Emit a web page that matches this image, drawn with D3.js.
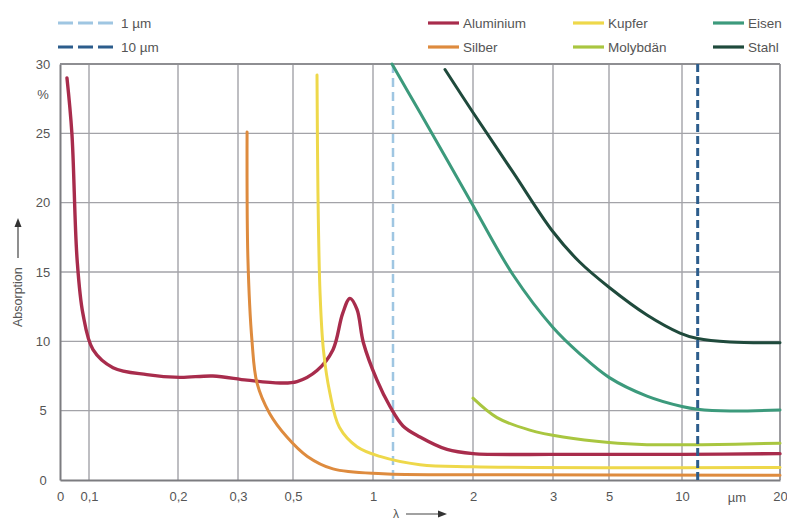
<!DOCTYPE html>
<html><head><meta charset="utf-8">
<script src="https://cdn.jsdelivr.net/npm/d3@7"></script>
<style>
html,body{margin:0;padding:0;background:#fff;}
svg{display:block;font-family:"Liberation Sans",Arial,sans-serif;}
</style></head><body>
<svg id="chart" width="787" height="523"></svg>
<script>
// Wavelength axis (µm) and absorption axis (%)
const xTickValues = [0, 0.1, 0.2, 0.3, 0.5, 1, 2, 3, 5, 10, 20];
const xTickLabels = ["0", "0,1", "0,2", "0,3", "0,5", "1", "2", "3", "5", "10", "20"];
const yTickValues = [0, 5, 10, 15, 20, 25, 30];

// Absorption curves: [wavelength µm, absorption %]
const aluminium = [[0.024,29],[0.041,25],[0.059,15.9],[0.079,12],[0.1045,9.4],[0.127,8.1],[0.165,7.6],[0.203,7.4],[0.258,7.5],[0.333,7.2],[0.453,7.0],[0.525,7.1],[0.65,7.9],[0.75,9.4],[0.81,12],[0.856,13.1],[0.9,12.3],[0.94,9.9],[1.04,7.2],[1.17,5.3],[1.3,3.9],[1.47,3.1],[1.74,2.2],[2,1.9],[3,1.85],[5,1.85],[10,1.85],[20,1.9]];
const silber = [[0.333,25.1],[0.336,16],[0.351,10],[0.369,7],[0.415,4.8],[0.478,3.1],[0.59,1.7],[0.75,0.8],[1.1,0.45],[2,0.38],[20,0.35]];
const kupfer = [[0.65,29.2],[0.656,20.7],[0.669,13.5],[0.69,9.4],[0.73,6.3],[0.79,3.8],[0.9,2.4],[1.07,1.7],[1.47,1.1],[2,0.95],[20,0.9]];
const molybdaen = [[2,5.9],[2.3,4.5],[2.71,3.6],[3.36,3.1],[5,2.7],[7.6,2.55],[12,2.55],[20,2.65]];
const eisen = [[1.19,30],[1.47,26.5],[1.74,23.1],[2,19.8],[2.5,14.8],[3,11.0],[3.96,9.1],[5,7.4],[7.6,6.05],[10,5.3],[11.6,5.1],[14.9,4.97],[20,5.05]];
const stahl = [[1.72,29.6],[2,26.5],[2.5,22.2],[3,17.9],[3.96,15.7],[5,13.9],[7.6,11.9],[9.86,10.6],[11.6,10.2],[14.9,9.95],[20,9.9]];

const seriesNames = ["Aluminium", "Silber", "Kupfer", "Molybdän", "Eisen", "Stahl"];
const seriesValues = [aluminium, silber, kupfer, molybdaen, eisen, stahl];
const seriesColors = ["#a82c4c", "#de8b3e", "#eed84a", "#a9c640", "#3c9a7c", "#1f4a3c"];

// Laser wavelength markers
const laserNames = ["1 µm", "10 µm"];
const laserWavelengths = [1.2, 11.6];
const laserColors = ["#9fc6e2", "#2c5d8c"];

const svg = d3.select("#chart");
const plotLeft = 60, plotRight = 780, plotTop = 64, plotBottom = 480;

// Non-uniform wavelength axis: each tick sits at its own position
const xStops = [60, 89, 178, 238, 293, 373, 473, 553, 609, 682, 780];
const x = d3.scaleLinear().domain(xTickValues).range(xStops);
const y = d3.scaleLinear().domain([0, 30]).range([plotBottom, plotTop]);

const gridColor = "#a3a3a8";
const textColor = "#555";

// Grid
const grid = svg.append("g");
grid.selectAll(".vg").data(xTickValues.slice(1)).join("line")
  .attr("x1", d => x(d)).attr("x2", d => x(d))
  .attr("y1", plotTop).attr("y2", plotBottom)
  .attr("stroke", gridColor).attr("stroke-width", 1.4);
grid.selectAll(".hg").data(yTickValues.slice(1)).join("line")
  .attr("x1", plotLeft).attr("x2", plotRight)
  .attr("y1", d => y(d)).attr("y2", d => y(d))
  .attr("stroke", gridColor).attr("stroke-width", 1.4);

// Axes
const xAxis = svg.append("g").attr("transform", `translate(0,${plotBottom})`)
  .call(d3.axisBottom(x).tickValues(xTickValues).tickFormat((d, i) => xTickLabels[i]).tickSize(0).tickPadding(12));
xAxis.select(".domain").attr("stroke", "#7c7c80").attr("stroke-width", 2);
xAxis.selectAll("text").attr("fill", textColor).attr("font-size", 13);

const yAxis = svg.append("g").attr("transform", `translate(${plotLeft},0)`)
  .call(d3.axisLeft(y).tickValues(yTickValues).tickSize(0).tickPadding(17));
yAxis.select(".domain").attr("stroke", "#7c7c80").attr("stroke-width", 2);
yAxis.selectAll("text").attr("fill", textColor).attr("font-size", 13).attr("text-anchor", "middle");

// Unit labels
svg.append("text").attr("x", 43).attr("y", y(27.5)).attr("text-anchor", "middle")
  .attr("fill", textColor).attr("font-size", 13).text("%");
svg.append("text").attr("x", x(15.6)).attr("y", plotBottom + 22).attr("text-anchor", "middle")
  .attr("fill", textColor).attr("font-size", 13).text("µm");

// Axis titles with arrows
svg.append("text").attr("transform", "translate(22,327) rotate(-90)")
  .attr("fill", textColor).attr("font-size", 12.5).text("Absorption");
svg.append("line").attr("x1", 18).attr("x2", 18).attr("y1", 258).attr("y2", 225)
  .attr("stroke", "#444").attr("stroke-width", 1.2);
svg.append("path").attr("d", "M18,218 L14.5,227 L21.5,227 Z").attr("fill", "#333");

svg.append("text").attr("x", 393).attr("y", 518)
  .attr("fill", textColor).attr("font-size", 12).text("λ");
svg.append("line").attr("x1", 406).attr("x2", 439).attr("y1", 514).attr("y2", 514)
  .attr("stroke", "#444").attr("stroke-width", 1.2);
svg.append("path").attr("d", "M447,514 L438,510.5 L438,517.5 Z").attr("fill", "#333");

// Top and right border
svg.append("line").attr("x1", plotLeft).attr("x2", plotRight).attr("y1", plotTop).attr("y2", plotTop)
  .attr("stroke", "#8e8e92").attr("stroke-width", 1.8);
svg.append("line").attr("x1", plotRight).attr("x2", plotRight).attr("y1", plotTop).attr("y2", plotBottom)
  .attr("stroke", "#8e8e92").attr("stroke-width", 1.4);

// Laser wavelength marker lines
const laserWidths = [2.5, 3];
const laserDash = ["9,5", "8,4"];
function drawLaser(i) {
  svg.append("line")
    .attr("x1", x(laserWavelengths[i])).attr("x2", x(laserWavelengths[i]))
    .attr("y1", plotTop).attr("y2", plotBottom)
    .attr("stroke", laserColors[i]).attr("stroke-width", laserWidths[i])
    .attr("stroke-dasharray", laserDash[i]);
}
drawLaser(0);

// Absorption curves
const line = d3.line().x(d => x(d[0])).y(d => y(d[1])).curve(d3.curveCatmullRom.alpha(0.5));
svg.append("g").selectAll("path").data(seriesValues).join("path")
  .attr("d", d => line(d))
  .attr("fill", "none")
  .attr("stroke", (d, i) => seriesColors[i])
  .attr("stroke-width", (d, i) => i === 0 ? 3.4 : 3)
  .attr("stroke-linecap", "round")
  .attr("stroke-linejoin", "round");

drawLaser(1);

// Legend: laser markers
const lg = svg.append("g");
laserNames.forEach((name, i) => {
  const ly = 23 + i * 24;
  lg.append("line").attr("x1", 58).attr("x2", 113).attr("y1", ly).attr("y2", ly)
    .attr("stroke", laserColors[i]).attr("stroke-width", 3.2).attr("stroke-dasharray", "15,5");
  lg.append("text").attr("x", 121).attr("y", ly + 5).attr("fill", textColor)
    .attr("font-size", 13.5).text(name);
});

// Legend: materials
const legendCols = [428, 573, 713];
seriesNames.forEach((name, i) => {
  const col = Math.floor(i / 2), row = i % 2;
  const lx = legendCols[col], ly = 23 + row * 24;
  lg.append("line").attr("x1", lx).attr("x2", lx + 31).attr("y1", ly).attr("y2", ly)
    .attr("stroke", seriesColors[i]).attr("stroke-width", 3.2);
  lg.append("text").attr("x", lx + 35).attr("y", ly + 5).attr("fill", textColor)
    .attr("font-size", 13.5).text(name);
});
</script>
</body></html>
